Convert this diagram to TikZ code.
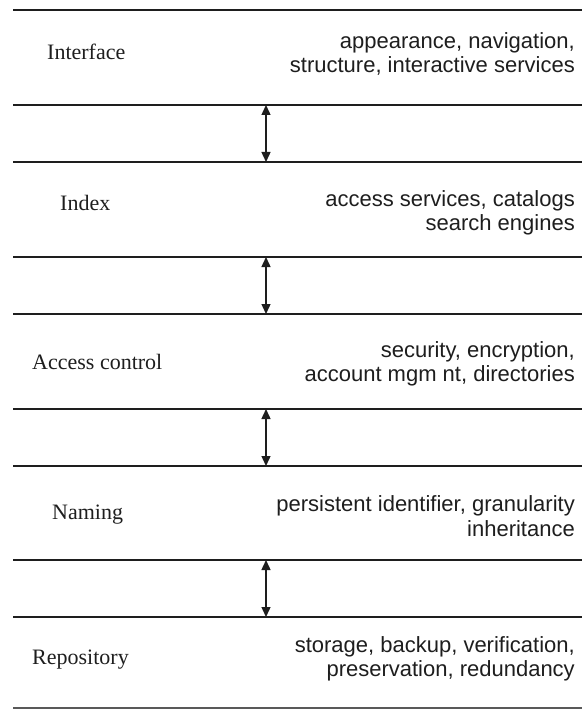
\documentclass[tikz,border=0pt]{standalone}
\usepackage{fontspec}
\setmainfont{Liberation Serif}
\newfontfamily\labelsans{Liberation Sans}
\usetikzlibrary{arrows.meta}
\definecolor{ink}{HTML}{1E1E1E}
\tikzset{
  rule/.style={draw=ink, line width=1.9pt},
  lastrule/.style={draw=black!65, line width=2.6pt},
  biarrow/.style={draw=ink, line width=1.4pt,
    {Triangle[length=10pt,width=9pt]}-{Triangle[length=10pt,width=9pt]}},
  layername/.style={inner sep=0pt, anchor=west, text=ink,
    font=\fontsize{22}{24}\selectfont},
  layerinfo/.style={inner sep=0pt, anchor=east, align=right, text=ink,
    font=\labelsans\fontsize{22}{24.5}\selectfont}
}
\begin{document}
\begin{tikzpicture}[x=1pt,y=-1pt]
\useasboundingbox (0,0) rectangle (582,711);
\fill[white] (0,0) rectangle (582,711);

% horizontal rules that bound each layer and each gap
\foreach \yy in {10,105,162,257,314,409,466,560,617}
  \draw[rule] (13,\yy) -- (582,\yy);
\draw[lastrule] (13,708) -- (582,708);

% layer names
\node[layername] (interface) at (47,52) {Interface};
\node[layername] (index) at (60,203) {Index};
\node[layername] (access) at (32,362) {Access control};
\node[layername] (naming) at (52,515) {Naming};
\node[layername] (repo) at (32,660) {Repository};

% layer contents
\node[layerinfo] (interfaceinfo) at (575,54) {appearance, navigation,\\structure, interactive services};
\node[layerinfo] (indexinfo) at (575,213) {access services, catalogs\\search engines};
\node[layerinfo] (accessinfo) at (575,364) {security, encryption,\\account mgm nt, directories};
\node[layerinfo] (naminginfo) at (575,516) {persistent identifier, granularity\\inheritance};
\node[layerinfo] (repoinfo) at (575,659) {storage, backup, verification,\\preservation, redundancy};

% end points of the connectors between neighbouring layers
\coordinate (g1t) at (266,105); \coordinate (g1b) at (266,162);
\coordinate (g2t) at (266,257); \coordinate (g2b) at (266,314);
\coordinate (g3t) at (266,409); \coordinate (g3b) at (266,466);
\coordinate (g4t) at (266,560); \coordinate (g4b) at (266,617);

\draw[biarrow] (g1t) -- (g1b);
\draw[biarrow] (g2t) -- (g2b);
\draw[biarrow] (g3t) -- (g3b);
\draw[biarrow] (g4t) -- (g4b);
\end{tikzpicture}
\end{document}
